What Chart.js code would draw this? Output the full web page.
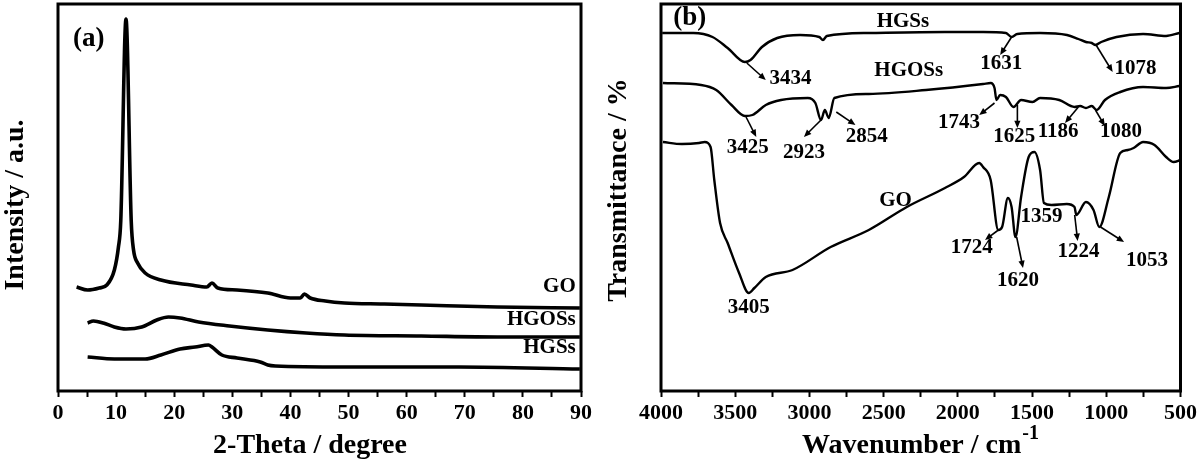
<!DOCTYPE html>
<html>
<head>
  <style>
    body { margin: 0; background: #fff; }
    #wrap { position: relative; width: 1200px; height: 467px; }
    canvas { position: absolute; top: 0; }
  </style>
</head>
<body>
  <div id="wrap">
    <canvas id="xrdChart" width="600" height="467" style="left:0"></canvas>
    <canvas id="ftirChart" width="600" height="467" style="left:600px"></canvas>
  </div>

  <script src="https://cdn.jsdelivr.net/npm/chart.js"></script>
  <script>
    // XRD patterns: [2-theta, intensity a.u.]
    const xrdGO = [[3.2,104],[5.1,101],[7.1,103],[8.4,106],[9.7,121],[10.4,144],[10.8,170],[11.7,372],[12.6,170],[13.0,141],[13.7,128],[15,118],[17.7,111],[22.9,106],[25.6,104],[26.5,108],[27.5,103],[30.8,101],[36.1,98],[40,93],[41.7,93],[42.4,97],[43.4,93],[46,90],[49.3,88],[55.9,87],[62.5,86],[75.6,84],[89.8,83]];
    const xrdHGOSs = [[5.1,68],[6.1,70],[7.8,68],[9.7,64],[11.7,62],[14.4,64],[17,71],[19,74],[21,73],[24.2,69],[29.5,65],[36.1,61],[42.7,58],[49.3,56],[62.5,55],[75.6,54],[89.8,54]];
    const xrdHGSs = [[5.1,34],[9.7,32],[15,32],[17.7,36],[21,42],[23.6,44],[25.9,46],[26.5,44],[28.2,36],[30.8,33],[34.8,29],[36.1,26],[37.4,25],[49.3,24],[69,24],[89.8,22]];
    const xrdNames = [{ text: 'GO', x: 89.1, y: 104 }, { text: 'HGOSs', x: 89.1, y: 71 }, { text: 'HGSs', x: 89.1, y: 43 }];

    // FTIR spectra: [wavenumber, transmittance a.u.]
    const ftirHGSs = [[3992,358],[3782,358],[3653,354],[3551,343],[3435,329],[3397,331],[3320,344],[3217,353],[3063,356],[2934,354],[2909,351],[2883,355],[2600,358],[2087,359],[1830,359],[1676,358],[1638,354],[1600,357],[1446,358],[1265,356],[1188,352],[1137,349],[1098,348],[1073,346],[1034,349],[931,354],[752,357],[597,355],[508,358]];
    const ftirHGOSs = [[3987,308],[3730,306],[3628,301],[3525,286],[3435,275],[3384,276],[3294,286],[3191,291],[3011,293],[2960,288],[2922,271],[2896,281],[2870,273],[2832,293],[2600,297],[2215,301],[1830,307],[1779,308],[1753,303],[1740,291],[1715,296],[1676,294],[1625,284],[1574,291],[1497,289],[1446,293],[1317,291],[1214,284],[1176,285],[1137,283],[1098,285],[1065,281],[1009,291],[906,299],[752,304],[597,303],[508,305]];
    const ftirGO = [[3987,249],[3859,247],[3743,248],[3705,249],[3666,244],[3641,211],[3602,168],[3551,148],[3474,118],[3409,98],[3371,103],[3294,114],[3114,121],[2857,144],[2600,161],[2344,184],[2087,203],[1959,214],[1856,228],[1830,224],[1779,211],[1728,161],[1702,164],[1663,193],[1638,184],[1612,154],[1574,194],[1523,234],[1484,239],[1446,221],[1420,188],[1369,186],[1266,187],[1214,184],[1202,176],[1137,189],[1086,181],[1047,164],[983,194],[906,238],[855,241],[816,243],[752,249],[675,246],[597,234],[546,229],[500,231]];
    const ftirNames = [{ text: 'HGSs', x: 2370, y: 369 }, { text: 'HGOSs', x: 2331, y: 320 }, { text: 'GO', x: 2420, y: 190 }];
    const ftirPeaks = [
      { text: '3434', x: 3127, y: 312 }, { text: '1631', x: 1707, y: 327 }, { text: '1078', x: 803, y: 322 },
      { text: '3425', x: 3415, y: 243 }, { text: '2923', x: 3037, y: 238 }, { text: '2854', x: 2613, y: 254 },
      { text: '1743', x: 1992, y: 268 }, { text: '1625', x: 1620, y: 254 }, { text: '1186', x: 1324, y: 259 },
      { text: '1080', x: 901, y: 259 },
      { text: '3405', x: 3409, y: 83 }, { text: '1724', x: 1907, y: 143 }, { text: '1620', x: 1594, y: 110 },
      { text: '1359', x: 1436, y: 174 }, { text: '1224', x: 1188, y: 139 }, { text: '1053', x: 726, y: 130 }
    ];
    // arrows: [fromX, fromY, toX, toY]
    const ftirArrows = [
      [3422,328,3294,311], [1638,354,1715,336], [1073,347,957,319],
      [3427,274,3358,254], [2922,271,3037,254], [2819,279,2690,266], [1753,288,1856,276],
      [1599,286,1599,263], [1188,284,1278,268], [1073,281,1010,265],
      [1727,161,1817,151], [1604,154,1561,123], [1213,176,1193,150], [1039,164,880,149]
    ];

    const serif = '"Liberation Serif", "Times New Roman", serif';

    function toPoints(arr) {
      return arr.map(p => ({ x: p[0], y: p[1] }));
    }

    function drawArrow(ctx, x1, y1, x2, y2) {
      const ang = Math.atan2(y2 - y1, x2 - x1);
      const head = 8;
      ctx.lineWidth = 1.6;
      ctx.beginPath();
      ctx.moveTo(x1, y1);
      ctx.lineTo(x2 - Math.cos(ang) * head * 0.7, y2 - Math.sin(ang) * head * 0.7);
      ctx.stroke();
      ctx.beginPath();
      ctx.moveTo(x2, y2);
      ctx.lineTo(x2 - head * Math.cos(ang - 0.4), y2 - head * Math.sin(ang - 0.4));
      ctx.lineTo(x2 - head * Math.cos(ang + 0.4), y2 - head * Math.sin(ang + 0.4));
      ctx.closePath();
      ctx.fill();
    }

    const notesPlugin = {
      id: 'notes',
      afterDatasetsDraw(chart, args, opts) {
        const ctx = chart.ctx;
        const xs = chart.scales.x, ys = chart.scales.y;
        const a = chart.chartArea;
        ctx.save();
        ctx.fillStyle = '#000';
        ctx.strokeStyle = '#000';

        (opts.arrows || []).forEach(r => {
          drawArrow(ctx, xs.getPixelForValue(r[0]), ys.getPixelForValue(r[1]),
                    xs.getPixelForValue(r[2]), ys.getPixelForValue(r[3]));
        });

        ctx.textBaseline = 'middle';
        ctx.font = 'bold 21px ' + serif;
        ctx.textAlign = opts.nameAlign || 'center';
        (opts.names || []).forEach(l => ctx.fillText(l.text, xs.getPixelForValue(l.x), ys.getPixelForValue(l.y)));
        ctx.textAlign = 'center';
        (opts.peaks || []).forEach(l => ctx.fillText(l.text, xs.getPixelForValue(l.x), ys.getPixelForValue(l.y)));

        ctx.font = 'bold 27px ' + serif;
        ctx.fillText(opts.tag.text, xs.getPixelForValue(opts.tag.x), ys.getPixelForValue(opts.tag.y));

        // frame
        ctx.lineWidth = 3;
        ctx.strokeRect(a.left, a.top, a.right - a.left, a.bottom - a.top);

        // axis titles
        ctx.font = 'bold 28px ' + serif;
        const main = opts.xTitle, sup = opts.xSup || '';
        const mw = ctx.measureText(main).width;
        ctx.font = 'bold 20px ' + serif;
        const sw = ctx.measureText(sup).width;
        const start = opts.xTitleCenter - (mw + sw) / 2;
        ctx.textAlign = 'left';
        ctx.font = 'bold 28px ' + serif;
        ctx.fillText(main, start, opts.xTitleY);
        if (sup) {
          ctx.font = 'bold 20px ' + serif;
          ctx.fillText(sup, start + mw + 1, opts.xTitleY - 12);
        }

        ctx.translate(opts.yTitleX, opts.yTitleY);
        ctx.rotate(-Math.PI / 2);
        ctx.textAlign = 'center';
        ctx.font = 'bold 28px ' + serif;
        ctx.fillText(opts.yTitle, 0, 0);
        ctx.restore();
      }
    };

    function axisX(min, max, step, labelStep, reverse) {
      return {
        type: 'linear',
        min: min,
        max: max,
        reverse: reverse,
        afterFit: s => { s.height = 76; },
        ticks: {
          stepSize: step,
          autoSkip: false,
          maxRotation: 0,
          padding: 3,
          color: '#000',
          font: { family: serif, size: 22, weight: 'bold' },
          callback: v => (v % labelStep === 0 ? v : '')
        },
        grid: { drawOnChartArea: false, drawTicks: true, tickLength: 6, tickWidth: 2, tickColor: '#000' },
        border: { display: false }
      };
    }

    function lineSet(arr, width) {
      return {
        data: toPoints(arr),
        borderColor: '#000',
        borderWidth: width,
        pointRadius: 0,
        cubicInterpolationMode: 'monotone',
        fill: false
      };
    }

    new Chart(document.getElementById('xrdChart'), {
      type: 'line',
      data: { datasets: [lineSet(xrdGO, 3.6), lineSet(xrdHGOSs, 3.6), lineSet(xrdHGSs, 3.6)] },
      options: {
        responsive: false,
        animation: false,
        layout: { padding: { left: 58, right: 19, top: 4, bottom: 0 } },
        scales: {
          x: axisX(0, 90, 5, 10, false),
          y: { display: false, min: 0, max: 387 }
        },
        plugins: {
          legend: { display: false },
          tooltip: { enabled: false },
          notes: {
            names: xrdNames,
            nameAlign: 'right',
            tag: { text: '(a)', x: 5.3, y: 352 },
            xTitle: '2-Theta / degree',
            xTitleCenter: 310,
            xTitleY: 446,
            yTitle: 'Intensity / a.u.',
            yTitleX: 16,
            yTitleY: 205
          }
        }
      },
      plugins: [notesPlugin]
    });

    new Chart(document.getElementById('ftirChart'), {
      type: 'line',
      data: { datasets: [lineSet(ftirHGSs, 2.4), lineSet(ftirHGOSs, 2.4), lineSet(ftirGO, 2.4)] },
      options: {
        responsive: false,
        animation: false,
        layout: { padding: { left: 61, right: 19, top: 4, bottom: 0 } },
        scales: {
          x: axisX(500, 4000, 250, 500, true),
          y: { display: false, min: 0, max: 387 }
        },
        plugins: {
          legend: { display: false },
          tooltip: { enabled: false },
          notes: {
            names: ftirNames,
            peaks: ftirPeaks,
            arrows: ftirArrows,
            tag: { text: '(b)', x: 3807, y: 373 },
            xTitle: 'Wavenumber / cm',
            xSup: '-1',
            xTitleCenter: 320,
            xTitleY: 446,
            yTitle: 'Transmittance / %',
            yTitleX: 19,
            yTitleY: 190
          }
        }
      },
      plugins: [notesPlugin]
    });
  </script>
</body>
</html>
